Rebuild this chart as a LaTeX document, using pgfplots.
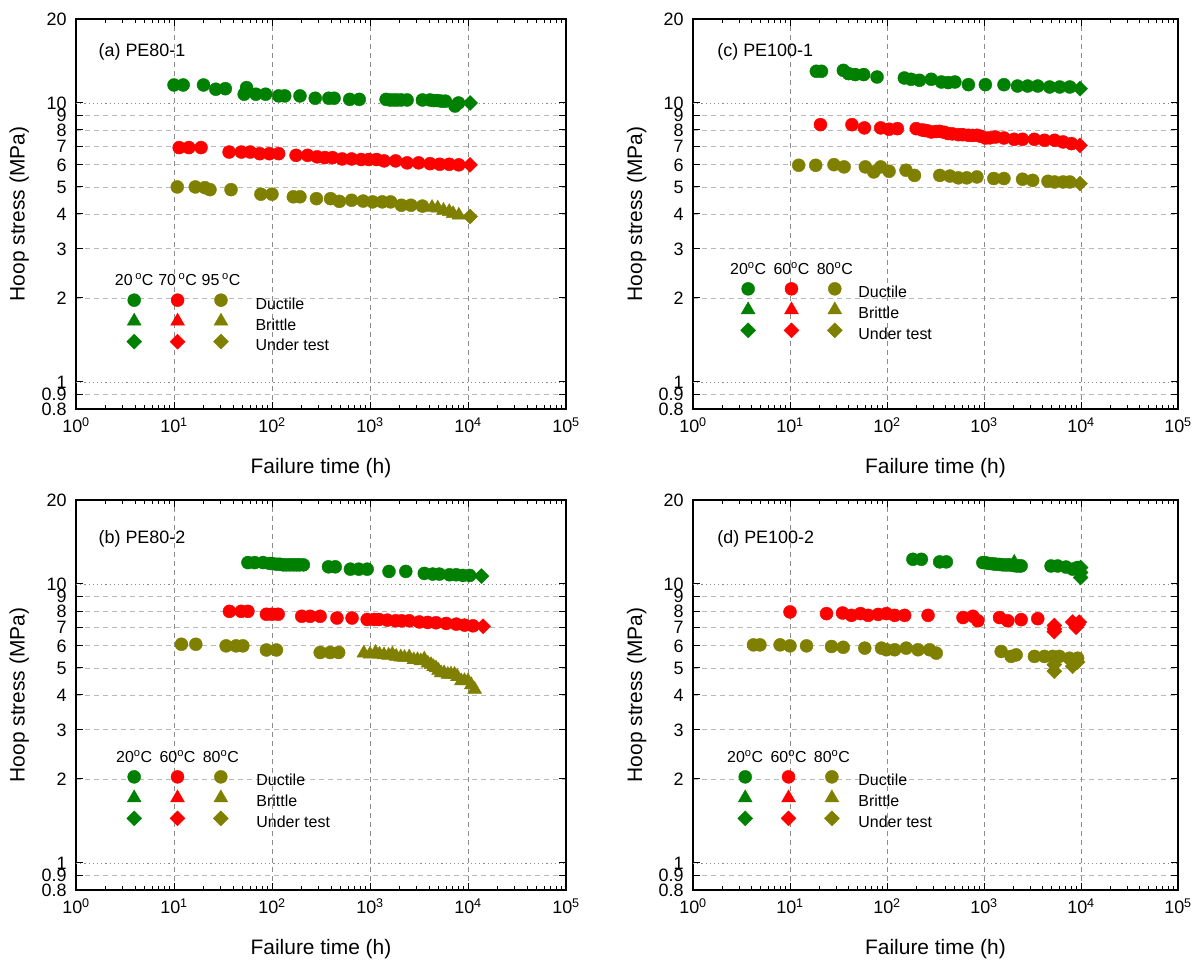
\documentclass[border=0pt]{standalone}
\usepackage{pgfplots}
\pgfplotsset{compat=1.18}
\usepackage{fontspec}
\setmainfont{Liberation Sans}
\definecolor{cg}{RGB}{0,128,0}
\definecolor{cr}{RGB}{255,0,0}
\definecolor{co}{RGB}{128,128,0}
\definecolor{xg}{RGB}{140,140,140}
\definecolor{yg}{RGB}{185,185,185}
\newcommand{\tkfont}{\fontsize{18}{20}\selectfont}
\newcommand{\lbfont}{\fontsize{21}{24}\selectfont}
\newcommand{\lgfont}{\fontsize{16}{18}\selectfont}
\pgfplotsset{
 mcirc/.style={mark=*, mark size=6.5bp},
 mtri/.style={mark=triangle*, mark size=8bp},
 mdia/.style={mark=square*, mark size=5.3bp, mark options={rotate=45}},
 legmark/.style={legend image code/.code={\draw[#1] plot coordinates {(0bp,5bp)};}},
 leghead/.style 2 args={legend image code/.code={\node[inner ysep=0pt, inner xsep=#2, anchor=base, font=\lgfont, text=black] at (0bp,0bp) {#1};}},
 legspace/.style={legend image code/.code={\path (0bp,0bp) (#1,0bp);}},
 every axis/.append style={
  xmode=log, ymode=log, scale only axis, height=390bp,
  xmin=1, xmax=100000, ymin=0.8, ymax=20,
  xtick={1,10,100,1000,10000,100000},
  xticklabels={10\textsuperscript{0},10\textsuperscript{1},10\textsuperscript{2},10\textsuperscript{3},10\textsuperscript{4},10\textsuperscript{5}},
  minor xtick={2,3,4,5,6,7,8,9,20,30,40,50,60,70,80,90,200,300,400,500,600,700,800,900,2000,3000,4000,5000,6000,7000,8000,9000,20000,30000,40000,50000,60000,70000,80000,90000},
  ytick={0.8,0.9,2,3,4,5,6,7,8,9,20},
  yticklabels={0.8,0.9,2,3,4,5,6,7,8,9,20},
  yminorticks=false,
  ymajorgrids=true, xmajorgrids=false,
  major grid style={yg, line width=0.8bp, dash pattern=on 5bp off 4bp},
  extra y ticks={1,10}, extra y tick labels={1,10},
  extra y tick style={grid=major, major grid style={xg, line width=0.9bp, dash pattern=on 1.2bp off 3bp}},
  extra x ticks={10,100,1000,10000},
  extra x tick labels={},
  extra x tick style={grid=major, major grid style={xg, line width=0.9bp, dash pattern=on 5bp off 4bp}},
  tick align=inside, major tick length=7bp, minor tick length=4bp,
  tick style={black, line width=1bp},
  axis line style={line width=1.5bp},
  tick label style={font=\tkfont},
  /pgf/number format/assume math mode=true,
  xticklabel style={yshift=-5bp},
  yticklabel style={xshift=-6bp},
  xlabel={Failure time (h)}, ylabel={Hoop stress (MPa)},
  label style={font=\lbfont},
  xlabel style={at={(axis description cs:0.5,-0.151)}, anchor=center},
  ylabel style={at={(axis description cs:-0.116,0.5)}, anchor=center},
  legend columns=4, legend cell align=left,
  legend style={draw=none, fill=none, inner sep=0pt, outer sep=0pt, row sep=0bp, column sep=0bp, anchor=north west, font=\lgfont, nodes={inner sep=0pt, text height=12bp, text depth=4bp}},
 },
}
% #1,#2,#3 headers, #4 spacer, #5 header xsep
\newcommand{\mylegend}[5]{%
 \addlegendimage{leghead={#1}{#5}}\addlegendentry{\mbox{}}
 \addlegendimage{leghead={#2}{#5}}\addlegendentry{\mbox{}}
 \addlegendimage{leghead={#3}{#5}}\addlegendentry{\mbox{}}
 \addlegendimage{legspace=#4}\addlegendentry{\mbox{}}
 \addlegendimage{legmark={mark=*, mark size=6.5bp, cg}}\addlegendentry{\mbox{}}
 \addlegendimage{legmark={mark=*, mark size=6.5bp, cr}}\addlegendentry{\mbox{}}
 \addlegendimage{legmark={mark=*, mark size=6.5bp, co}}\addlegendentry{\mbox{}}
 \addlegendimage{legspace=#4}\addlegendentry{Ductile}
 \addlegendimage{legmark={mark=triangle*, mark size=8bp, cg}}\addlegendentry{\mbox{}}
 \addlegendimage{legmark={mark=triangle*, mark size=8bp, cr}}\addlegendentry{\mbox{}}
 \addlegendimage{legmark={mark=triangle*, mark size=8bp, co}}\addlegendentry{\mbox{}}
 \addlegendimage{legspace=#4}\addlegendentry{Brittle}
 \addlegendimage{legmark={mark=square*, mark size=5.3bp, mark options={rotate=45}, cg}}\addlegendentry{\mbox{}}
 \addlegendimage{legmark={mark=square*, mark size=5.3bp, mark options={rotate=45}, cr}}\addlegendentry{\mbox{}}
 \addlegendimage{legmark={mark=square*, mark size=5.3bp, mark options={rotate=45}, co}}\addlegendentry{\mbox{}}
 \addlegendimage{legspace=#4}\addlegendentry{Under test}
}
\begin{document}
\begin{tikzpicture}
\useasboundingbox (0,0) rectangle (1204bp,970bp);
% ---------------- (a) ----------------
\begin{axis}[width=490bp, at={(76bp,561bp)}, anchor=south west, legend style={at={(0.0755,0.347)}}]
\mylegend{20\,\textsuperscript{o}C}{70\,\textsuperscript{o}C}{95\,\textsuperscript{o}C}{12bp}{1.9bp}
\addplot[only marks, forget plot, mcirc, cg] coordinates {(10,11.6) (12.4,11.6) (20,11.6) (26.7,11.2) (33.4,11.25) (52,10.75) (55,11.35) (68.5,10.75) (86,10.75) (117,10.6) (135,10.6) (193,10.6) (276,10.4) (380,10.4) (430,10.4) (621,10.3) (777,10.3) (1459,10.3) (1600,10.25) (1746,10.25) (1900,10.25) (2090,10.25) (2393,10.25) (3428,10.25) (4103,10.25) (4500,10.2) (4911,10.2) (5400,10.15) (5888,10.15) (7362,9.75) (8000,10.0)};
\addplot[only marks, forget plot, mdia, cg] coordinates {(10500,10.0)};
\addplot[only marks, forget plot, mcirc, cr] coordinates {(11.3,6.92) (14.2,6.92) (18.9,6.92) (36.5,6.67) (48.7,6.67) (59.9,6.67) (75,6.58) (94,6.58) (117,6.58) (176,6.49) (231,6.49) (289,6.41) (346,6.37) (414,6.37) (519,6.3) (649,6.3) (813,6.27) (973,6.27) (1164,6.27) (1395,6.2) (1827,6.2) (2393,6.1) (3133,6.1) (4103,6.06) (5140,6.03) (6440,6.03) (8058,6.0)};
\addplot[only marks, forget plot, mdia, cr] coordinates {(10500,6.0)};
\addplot[only marks, forget plot, mcirc, co] coordinates {(10.8,5.0) (16.5,5.0) (20.7,4.97) (23.3,4.89) (38.2,4.89) (77,4.71) (100,4.71) (165,4.61) (193,4.61) (284,4.54) (396,4.54) (487,4.44) (649,4.48) (851,4.45) (1064,4.42) (1333,4.42) (1625,4.42) (2090,4.3) (2617,4.3) (3428,4.27)};
\addplot[only marks, forget plot, mtri, co] coordinates {(4296,4.22) (4911,4.2) (5623,4.12) (6440,4.08) (7047,4.01) (8058,3.96)};
\addplot[only marks, forget plot, mdia, co] coordinates {(10500,3.92)};
\node[anchor=west, font=\tkfont] at (rel axis cs:0.039,0.915) {(a) PE80-1};
\end{axis}
% ---------------- (b) ----------------
\begin{axis}[width=490bp, at={(76bp,80bp)}, anchor=south west, legend style={at={(0.0755,0.358)}}]
\mylegend{20\textsuperscript{o}C}{60\textsuperscript{o}C}{80\textsuperscript{o}C}{13bp}{3.2bp}
\addplot[only marks, forget plot, mcirc, cg] coordinates {(56.8,11.93) (66.5,11.93) (81,11.93) (95,11.84) (100,11.84) (111,11.77) (120,11.77) (130,11.71) (140,11.71) (152,11.71) (165,11.71) (178,11.71) (190,11.71) (209,11.71) (377,11.52) (442,11.52) (631,11.3) (769,11.3) (936,11.3) (1563,11.09) (2319,11.09) (3580,10.91) (4363,10.85) (5108,10.85) (6473,10.79) (7580,10.79) (8874,10.73) (10400,10.73)};
\addplot[only marks, forget plot, mdia, cg] coordinates {(13700,10.67)};
\addplot[only marks, forget plot, mcirc, cr] coordinates {(36.8,7.98) (48.5,7.98) (56.8,7.98) (87.7,7.79) (100,7.79) (115.6,7.79) (201,7.66) (245,7.66) (310,7.66) (460,7.55) (656,7.55) (936,7.46) (1100,7.46) (1233,7.46) (1502,7.42) (1831,7.38) (2100,7.38) (2512,7.38) (3183,7.31) (3876,7.28) (4721,7.26) (5983,7.22) (7580,7.18) (9226,7.12) (11250,7.08)};
\addplot[only marks, forget plot, mdia, cr] coordinates {(14260,7.06)};
\addplot[only marks, forget plot, mcirc, co] coordinates {(11.9,6.08) (16.7,6.08) (34,6.0) (43,6.0) (50.4,6.0) (87.7,5.8) (111,5.8) (310,5.68) (392,5.68) (479,5.68)};
\addplot[only marks, forget plot, mtri, co] coordinates {(865,5.65) (1000,5.6) (1140,5.68) (1250,5.6) (1390,5.57) (1550,5.55) (1692,5.6) (1850,5.5) (2061,5.47) (2250,5.45) (2512,5.47) (2800,5.35) (3055,5.35) (3300,5.3) (3580,5.38) (3900,5.2) (4195,5.14) (4450,5.05) (4721,5.0) (5000,4.9) (5311,4.8) (5700,4.8) (6223,4.74) (6700,4.75) (7290,4.74) (7800,4.65) (8540,4.49) (9200,4.5) (10000,4.49) (10800,4.35) (11700,4.19)};
\node[anchor=west, font=\tkfont] at (rel axis cs:0.039,0.9) {(b) PE80-2};
\end{axis}
% ---------------- (c) ----------------
\begin{axis}[width=485bp, at={(693bp,561bp)}, anchor=south west, legend style={at={(0.070,0.376)}}]
\mylegend{20\textsuperscript{o}C}{60\textsuperscript{o}C}{80\textsuperscript{o}C}{1bp}{3.2bp}
\addplot[only marks, forget plot, mcirc, cg] coordinates {(18.7,12.99) (21.1,12.99) (35.5,13.09) (40,12.74) (47,12.64) (57.5,12.64) (79,12.39) (151,12.29) (177,12.16) (216,12.06) (286,12.16) (364,11.89) (427,11.83) (501,11.89) (691,11.63) (1033,11.63) (1606,11.63) (2214,11.5) (2818,11.5) (3583,11.5) (4745,11.41) (6030,11.41) (7670,11.41)};
\addplot[only marks, forget plot, mdia, cg] coordinates {(9770,11.25)};
\addplot[only marks, forget plot, mcirc, cr] coordinates {(20.6,8.36) (43.5,8.36) (58.5,8.14) (86,8.14) (105,8.05) (128,8.09) (200,8.09) (230,8.0) (244,7.98) (260,7.95) (286,7.87) (320,7.9) (350,7.91) (390,7.85) (427,7.77) (470,7.75) (543,7.70) (600,7.7) (691,7.66) (760,7.65) (845,7.66) (920,7.6) (1033,7.49) (1150,7.5) (1313,7.55) (1606,7.49) (2042,7.41) (2495,7.41) (3304,7.41) (4204,7.35) (5350,7.35) (6535,7.25) (7980,7.15)};
\addplot[only marks, forget plot, mdia, cr] coordinates {(9770,7.05)};
\addplot[only marks, forget plot, mcirc, co] coordinates {(12.3,5.98) (18.4,5.98) (28.4,6.01) (36.1,5.9) (59.8,5.9) (73,5.66) (86,5.9) (105,5.69) (157,5.74) (192,5.5) (350,5.5) (445,5.47) (543,5.39) (664,5.39) (845,5.43) (1262,5.36) (1606,5.36) (2495,5.33) (3176,5.28) (4565,5.24) (5350,5.21) (6535,5.21) (7670,5.21)};
\addplot[only marks, forget plot, mdia, co] coordinates {(9770,5.14)};
\node[anchor=west, font=\tkfont] at (rel axis cs:0.043,0.915) {(c) PE100-1};
\end{axis}
% ---------------- (d) ----------------
\begin{axis}[width=485bp, at={(693bp,80bp)}, anchor=south west, legend style={at={(0.064,0.358)}}]
\mylegend{20\textsuperscript{o}C}{60\textsuperscript{o}C}{80\textsuperscript{o}C}{4bp}{3.2bp}
\addplot[only marks, forget plot, mcirc, cg] coordinates {(185,12.26) (226,12.26) (349,12.0) (409,12.0) (973,11.93) (1050,11.9) (1140,11.84) (1250,11.8) (1335,11.77) (1450,11.75) (1564,11.71) (1700,11.7) (1833,11.71) (2000,11.65) (2144,11.61) (2300,11.6) (2415,11.61) (4911,11.6) (5740,11.6) (7010,11.5) (8200,11.3) (9230,11.46)};
\addplot[only marks, forget plot, mtri, cg] coordinates {(2050,11.95)};
\addplot[only marks, forget plot, mdia, cg] coordinates {(9900,11.45) (9900,10.99) (9900,10.55)};
\addplot[only marks, forget plot, mcirc, cr] coordinates {(10,7.94) (23.8,7.83) (34.8,7.87) (43,7.72) (53.3,7.83) (64,7.72) (81,7.78) (98.6,7.83) (120,7.72) (152,7.72) (265,7.72) (607,7.58) (769,7.66) (865,7.38) (1445,7.58) (1758,7.38) (2415,7.45) (3583,7.51)};
\addplot[only marks, forget plot, mdia, cr] coordinates {(5310,7.1) (5310,6.9) (5310,6.75) (8200,7.3) (9600,7.3) (8900,7.0) (9300,7.15)};
\addplot[only marks, forget plot, mcirc, co] coordinates {(4.2,6.05) (4.9,6.05) (7.9,6.05) (10,6.0) (14.8,6.0) (26.8,5.97) (35.4,5.93) (59,5.89) (87.7,5.89) (98.6,5.81) (120,5.81) (158,5.89) (209,5.81) (275,5.81) (322,5.65) (1503,5.73) (1904,5.5) (2144,5.57) (3310,5.5) (4200,5.5) (5100,5.5) (5980,5.5) (7590,5.42) (9230,5.42)};
\addplot[only marks, forget plot, mdia, co] coordinates {(5310,4.87) (5310,5.14) (8190,5.07) (9230,5.25)};
\node[anchor=west, font=\tkfont] at (rel axis cs:0.043,0.9) {(d) PE100-2};
\end{axis}
\end{tikzpicture}
\end{document}
